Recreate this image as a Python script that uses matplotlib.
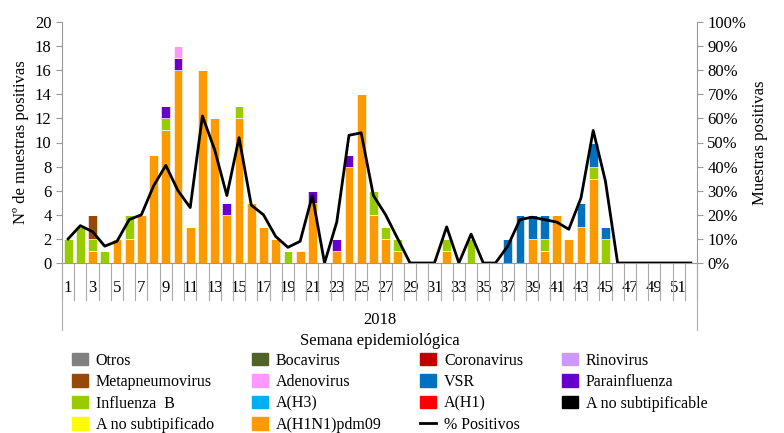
import matplotlib
matplotlib.use("Agg")
import matplotlib.pyplot as plt
import numpy as np
from matplotlib.lines import Line2D
from matplotlib.patches import Patch

plt.rcParams['font.family'] = ['Liberation Serif', 'DejaVu Serif']

weeks = list(range(1, 53))
def arr(d):
    return [d.get(w, 0) for w in weeks]

h1n1 = arr({3:1,5:2,6:2,7:4,8:9,9:11,10:16,11:3,12:16,13:12,14:4,15:12,16:5,17:3,18:2,20:1,21:5,23:1,24:8,25:14,26:4,27:2,28:1,32:1,39:2,40:1,41:4,42:2,43:3,44:7})
flub = arr({1:2,2:3,3:1,4:1,6:2,9:1,15:1,19:1,26:2,27:1,28:1,32:1,34:2,40:1,44:1,45:2})
vsr = arr({37:2,38:4,39:2,40:2,43:2,44:2,45:1})
para = arr({9:1,10:1,14:1,21:1,23:1,24:1})
adeno = arr({10:1})
metap = arr({3:2})
zero = [0]*52
pct = arr({1:10,2:15.5,3:13,4:7,5:9,6:18,7:20,8:32,9:40.5,10:30,11:23,12:61,13:47,14:28,15:52,16:24,17:20,18:11,19:6.5,20:9,21:28,22:0,23:17,24:53,25:54,26:28,27:20,28:10,32:15,34:12,37:7,38:18,39:19,40:18,41:17,42:14,43:27,44:55,45:34})

fig = plt.figure(figsize=(7.84, 4.33), dpi=100)
ax = fig.add_axes([62/784, 1-263/433, (697-62)/784, (263-22)/433])
x = np.arange(52)

series = [
    ("A(H1N1)pdm09", h1n1, "#ff9900"),
    ("A no subtipificado", zero, "#ffff00"),
    ("A no subtipificable", zero, "#000000"),
    ("A(H1)", zero, "#ff0000"),
    ("A(H3)", zero, "#00b0f0"),
    ("Influenza  B", flub, "#99cc00"),
    ("VSR", vsr, "#0070c0"),
    ("Parainfluenza", para, "#6600cc"),
    ("Adenovirus", adeno, "#ff99ff"),
    ("Metapneumovirus", metap, "#984807"),
    ("Rinovirus", zero, "#cc99ff"),
    ("Coronavirus", zero, "#c00000"),
    ("Bocavirus", zero, "#4f6228"),
    ("Otros", zero, "#808080"),
]
bottom = np.zeros(52)
for name, vals, c in series:
    v = np.array(vals, float)
    ax.bar(x, v, bottom=bottom, width=0.72, color=c, edgecolor='white', linewidth=0.4)
    bottom += v

ax.set_xlim(-0.5, 51.5)
ax.set_ylim(0, 20)
ax.set_yticks(range(0, 21, 2))
ax.set_ylabel("Nº de muestras positivas", fontsize=12)
for s in ['top', 'right']:
    ax.spines[s].set_visible(False)
ax.spines['left'].set_color('#999999')
ax.spines['bottom'].set_color('#999999')
ax.tick_params(axis='y', labelsize=12, color='#999999', length=4)
ax.set_xticks(x)
ax.set_xticklabels([str(w) if w % 2 == 1 else "" for w in weeks], fontsize=12)
ax.tick_params(axis='x', length=0, pad=12)
for b in np.arange(-0.5, 52, 1):
    ax.plot([b, b], [0, -0.155], transform=ax.get_xaxis_transform(), color='#aaaaaa', lw=0.8, clip_on=False)
for b in [-0.5, 51.5]:
    ax.plot([b, b], [0, -0.28], transform=ax.get_xaxis_transform(), color='#aaaaaa', lw=0.8, clip_on=False)
ax.text(25.5, -0.235, "2018", transform=ax.get_xaxis_transform(), ha='center', va='center', fontsize=12)
ax.text(25.5, -0.325, "Semana epidemiológica", transform=ax.get_xaxis_transform(), ha='center', va='center', fontsize=12)

ax2 = ax.twinx()
ax2.plot(x, pct, color='black', lw=2)
ax2.set_ylim(0, 100)
ax2.set_yticks(range(0, 101, 10))
ax2.set_yticklabels([f"{v}%" for v in range(0, 101, 10)], fontsize=12)
ax2.set_ylabel("Muestras positivas", fontsize=12)
for s in ['top', 'left', 'bottom']:
    ax2.spines[s].set_visible(False)
ax2.spines['right'].set_color('#999999')
ax2.tick_params(axis='y', color='#999999', length=4)

legend_order = ["Otros", "Bocavirus", "Coronavirus", "Rinovirus", "Metapneumovirus", "Adenovirus",
                "VSR", "Parainfluenza", "Influenza  B", "A(H3)", "A(H1)", "A no subtipificable",
                "A no subtipificado", "A(H1N1)pdm09"]
cmap = {n: c for n, _, c in series}
handles = [Patch(color=cmap[n], label=n) for n in legend_order]
handles.append(Line2D([0], [0], color='black', lw=2, label="% Positivos"))
idx = [0, 4, 8, 12, 1, 5, 9, 13, 2, 6, 10, 14, 3, 7, 11]
hh = [handles[i] for i in idx]
fig.legend(handles=hh, labels=[h.get_label() for h in hh], ncol=4, loc='lower left',
           bbox_to_anchor=(62/784, -0.022, 655/784, 0.2), mode='expand', frameon=False,
           fontsize=11.5, handlelength=1.0, handleheight=0.8, labelspacing=0.34,
           handletextpad=0.5, borderaxespad=0.2)

fig.savefig("out.png", dpi=100)
